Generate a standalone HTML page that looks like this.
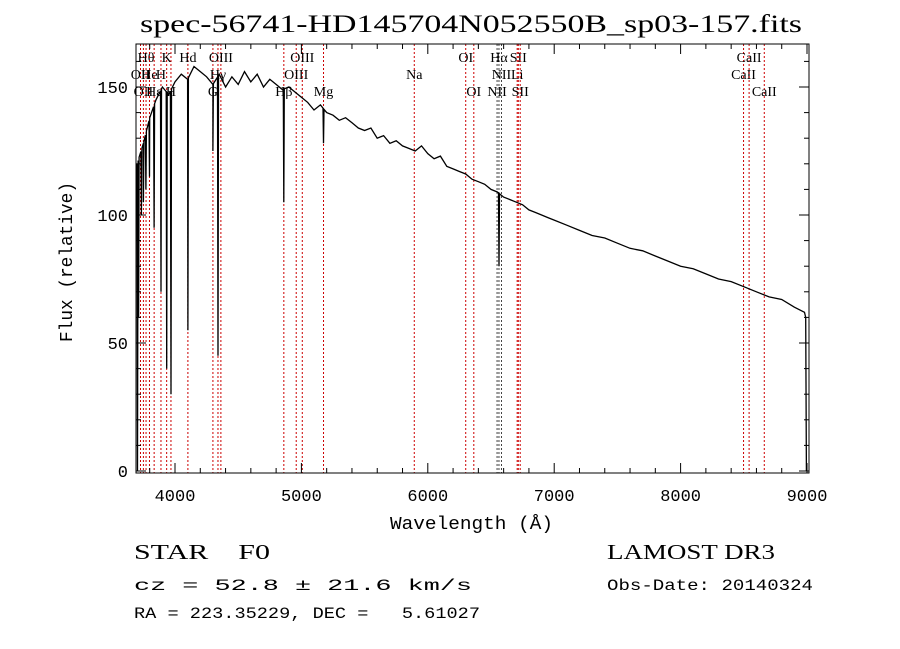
<!DOCTYPE html>
<html><head><meta charset="utf-8"><style>
body{margin:0;background:#fff;width:900px;height:649px;overflow:hidden}
svg{display:block}
text{white-space:pre}
</style></head><body>
<svg id="chart" width="900" height="649" xmlns="http://www.w3.org/2000/svg" xml:space="preserve"></svg>
<script>
const contWave=[3700,3750,3800,3850,3900,3950,4000,4050,4100,4150,4200,4250,4300,4350,4400,4450,4500,4550,4600,4650,4700,4750,4800,4850,4900,4950,5000,5050,5100,5150,5200,5250,5300,5350,5400,5450,5500,5550,5600,5650,5700,5750,5800,5850,5900,5950,6000,6050,6100,6150,6200,6250,6300,6350,6400,6450,6500,6550,6600,6650,6700,6750,6800,6850,6900,6950,7000,7100,7200,7300,7400,7500,7600,7700,7800,7900,8000,8100,8200,8300,8400,8500,8600,8700,8800,8900,8980];
const contFlux=[120,128,138,145,150,147,152,155,153,158,156,154,151,155,150,154,151,156,152,155,150,153,151,149,150,148,146,144,141,143,140,139,137,138,136,134,133,134,130,131,128,129,127,126,125,127,124,122,123,119,118,117,116,114,113,112,110,109,107,106,105,104,102,101,100,99,98,96,94,92,91,89,87,86,84,82,80,79,77,75,74,72,70,68,67,64,62];
const dipWave=[3712,3734,3750,3770,3798,3835,3889,3934,3968,4102,4300,4340,4861,5175,6563];
const dipFlux=[60,100,105,110,115,95,70,40,30,55,125,45,105,128,80];
const lineWave=[3727,3750,3771,3798,3835,3889,3934,3968,4102,4300,4340,4363,4861,4959,5007,5175,5893,6300,6364,6548,6563,6583,6707,6716,6731,8498,8542,8662];
const lineText=["OII","OII","Hθ","He","Hε","H","K","H","Hd","G","Hγ","OIII","Hβ","OIII","OIII","Mg","Na","OI","OI","NII","Hα","NII","Li","SII","SII","CaII","CaII","CaII"];
const lineRow=[1,2,0,1,2,1,0,2,0,2,1,0,2,1,0,2,1,0,2,2,0,1,1,0,2,1,0,2];
const xTicks=[4000,5000,6000,7000,8000,9000];
const yTicks=[0,50,100,150];

const svg=document.getElementById('chart');
const NS='http://www.w3.org/2000/svg';
const L=136,R=809,T=44,B=473;
const X=w=>175+(w-4000)*0.1264;
const Y=f=>471-f*2.56;
function mk(tag,attrs,parent){const e=document.createElementNS(NS,tag);for(const k in attrs)e.setAttribute(k,attrs[k]);(parent||svg).appendChild(e);return e;}
function cont(w){for(let i=0;i<contWave.length-1;i++){if(w>=contWave[i]&&w<=contWave[i+1]){const t=(w-contWave[i])/(contWave[i+1]-contWave[i]);return contFlux[i]+t*(contFlux[i+1]-contFlux[i]);}}return contFlux[contFlux.length-1];}

lineWave.forEach((w,i)=>{
  const ln=mk('line',{x1:X(w),x2:X(w),y1:T,y2:B,stroke:(w>6540&&w<6590)?'#444':'#c00',"stroke-width":1,"stroke-dasharray":"2,2"});
  
  
  const tx=mk('text',{x:X(w),y:62+lineRow[i]*17,"text-anchor":"middle","font-family":"Liberation Serif, serif","font-size":14,fill:'#000'});
  tx.textContent=lineText[i];
  
  
});

let pts=[];
contWave.forEach((w,i)=>pts.push([w,contFlux[i]]));
dipWave.forEach((w,i)=>{pts.push([w-4,cont(w-4)]);pts.push([w,dipFlux[i]]);pts.push([w+4,cont(w+4)]);});
pts.push([3703,0]);pts.push([8990,60]);pts.push([8995,0]);
pts.sort((a,b)=>a[0]-b[0]);
const sp=mk('polyline',{points:pts.map(p=>X(p[0]).toFixed(1)+','+Y(p[1]).toFixed(1)).join(' '),fill:'none',stroke:'#000',"stroke-width":1.3});



const fr=mk('rect',{x:L,y:T,width:R-L,height:B-T,fill:'none',stroke:'#000',"stroke-width":1});



for(let w=3800;w<=9000;w+=200){const maj=w%1000===0;const l=maj?10:5;
  mk('line',{x1:X(w),x2:X(w),y1:B,y2:B-l,stroke:'#000'});mk('line',{x1:X(w),x2:X(w),y1:T,y2:T+l,stroke:'#000'});}
for(let f=0;f<=160;f+=10){const maj=f%50===0;const l=maj?10:5;
  mk('line',{x1:L,x2:L+l,y1:Y(f),y2:Y(f),stroke:'#000'});mk('line',{x1:R,x2:R-l,y1:Y(f),y2:Y(f),stroke:'#000'});}
xTicks.forEach(w=>{const t=mk('text',{x:X(w),y:501,"text-anchor":"middle","font-family":"Liberation Mono, monospace","font-size":17});t.textContent=w;
  });
yTicks.forEach(f=>{const t=mk('text',{x:128,y:Y(f)+6,"text-anchor":"end","font-family":"Liberation Mono, monospace","font-size":17});t.textContent=f;
  });

function txt(s,x,y,size,fam,name,len,anchor){const t=mk('text',{x:x,y:y,"font-family":fam,"font-size":size,"text-anchor":anchor||'start'});if(len){t.setAttribute('textLength',len);t.setAttribute('lengthAdjust','spacingAndGlyphs');}t.textContent=s;return t;}
txt('spec-56741-HD145704N052550B_sp03-157.fits',140,32,25,'Liberation Serif, serif','chart-title',662);
txt('Wavelength (Å)',390,529,18,'Liberation Mono, monospace','x-axis-title',163);
const yt=txt('Flux (relative)',0,0,18,'Liberation Mono, monospace','y-axis-title',160,'middle');yt.setAttribute('transform','translate(72,262) rotate(-90)');
txt('STAR    F0',134,559,21,'Liberation Serif, serif','object-class',136);
txt('cz = 52.8 ± 21.6 km/s',134,590,16,'Liberation Mono, monospace','redshift-info',338);
txt('RA = 223.35229, DEC =   5.61027',134,618,16,'Liberation Mono, monospace','coordinates-info',346);
txt('LAMOST DR3',607,559,21,'Liberation Serif, serif','survey-name',168);
txt('Obs-Date: 20140324',607,590,16,'Liberation Mono, monospace','obs-date',206);
</script>
</body></html>
